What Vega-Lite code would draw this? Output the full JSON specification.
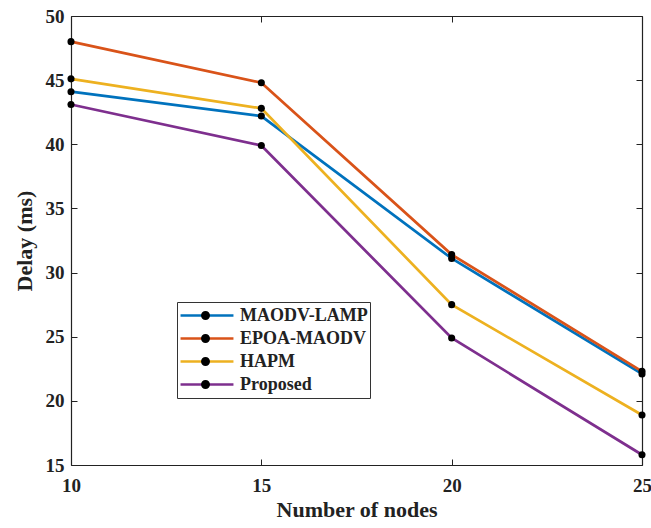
{
  "$schema": "https://vega.github.io/schema/vega-lite/v6.json",
  "autosize": "none",
  "width": 571,
  "height": 449,
  "padding": {"left": 71, "top": 16, "right": 9, "bottom": 63},
  "background": "white",
  "data": {"values": [
    {"nodes": 10, "delay": 44.1, "method": "MAODV-LAMP"},
    {"nodes": 15, "delay": 42.2, "method": "MAODV-LAMP"},
    {"nodes": 20, "delay": 31.1, "method": "MAODV-LAMP"},
    {"nodes": 25, "delay": 22.1, "method": "MAODV-LAMP"},
    {"nodes": 10, "delay": 48.0, "method": "EPOA-MAODV"},
    {"nodes": 15, "delay": 44.8, "method": "EPOA-MAODV"},
    {"nodes": 20, "delay": 31.4, "method": "EPOA-MAODV"},
    {"nodes": 25, "delay": 22.3, "method": "EPOA-MAODV"},
    {"nodes": 10, "delay": 45.1, "method": "HAPM"},
    {"nodes": 15, "delay": 42.8, "method": "HAPM"},
    {"nodes": 20, "delay": 27.5, "method": "HAPM"},
    {"nodes": 25, "delay": 18.9, "method": "HAPM"},
    {"nodes": 10, "delay": 43.1, "method": "Proposed"},
    {"nodes": 15, "delay": 39.9, "method": "Proposed"},
    {"nodes": 20, "delay": 24.9, "method": "Proposed"},
    {"nodes": 25, "delay": 15.8, "method": "Proposed"}
  ]},
  "config": {
    "view": {"stroke": null},
    "font": "Liberation Serif",
    "axis": {
      "grid": false,
      "domainColor": "#222222",
      "domainWidth": 1.2,
      "tickColor": "#222222",
      "tickSize": -6,
      "tickWidth": 1,
      "labelFont": "Liberation Serif",
      "labelFontWeight": "bold",
      "labelFontSize": 19,
      "labelColor": "#222222",
      "titleFont": "Liberation Serif",
      "titleFontWeight": "bold",
      "titleFontSize": 22,
      "titleColor": "#222222"
    }
  },
  "layer": [
    {
      "mark": {"type": "line", "strokeWidth": 2.7},
      "encoding": {
        "x": {"field": "nodes", "type": "quantitative", "scale": {"domain": [10, 25], "nice": false, "zero": false},
              "axis": {"title": "Number of nodes", "values": [10, 15, 20, 25], "labelPadding": 17, "titlePadding": 4, "labelFlush": false}},
        "y": {"field": "delay", "type": "quantitative", "scale": {"domain": [15, 50], "nice": false, "zero": false},
              "axis": {"title": "Delay (ms)", "values": [15, 20, 25, 30, 35, 40, 45, 50], "labelPadding": 13, "titlePadding": 9, "labelFlush": false}},
        "color": {"field": "method", "type": "nominal",
                  "scale": {"domain": ["MAODV-LAMP", "EPOA-MAODV", "HAPM", "Proposed"], "range": ["#0072BD", "#D95319", "#EDB120", "#7E2F8E"]},
                  "legend": {
                    "title": null,
                    "orient": "none",
                    "legendX": 106,
                    "legendY": 286,
                    "fillColor": "white",
                    "strokeColor": "#333333",
                    "padding": 2,
                    "rowPadding": 0,
                    "clipHeight": 23,
                    "symbolType": "M-1,0H1",
                    "symbolSize": 2800,
                    "symbolStrokeWidth": 2.7,
                    "labelFont": "Liberation Serif",
                    "labelFontWeight": "bold",
                    "labelFontSize": 18,
                    "labelColor": "#222222",
                    "labelOffset": 5
                  }}
      }
    },
    {
      "mark": {"type": "point", "filled": true, "size": 50, "opacity": 1},
      "encoding": {
        "x": {"field": "nodes", "type": "quantitative", "axis": {"orient": "top", "title": null, "labels": false, "values": [10, 15, 20, 25]}},
        "y": {"field": "delay", "type": "quantitative", "axis": {"orient": "right", "title": null, "labels": false, "values": [15, 20, 25, 30, 35, 40, 45, 50]}},
        "fill": {"field": "method", "type": "nominal",
                  "scale": {"range": ["black"]},
                  "legend": {
                    "title": null,
                    "orient": "none",
                    "legendX": 106,
                    "legendY": 286,
                    "padding": 2,
                    "rowPadding": 0,
                    "clipHeight": 23,
                    "symbolType": "M-0.17,0a0.17,0.17 0 1,0 0.34,0a0.17,0.17 0 1,0 -0.34,0",
                    "symbolSize": 2800,
                    "symbolStrokeWidth": 0,
                    "symbolOpacity": 1,
                    "labelExpr": "''",
                    "labelFontSize": 18,
                    "labelOffset": 5
                  }}
      }
    }
  ],
  "resolve": {"axis": {"x": "independent", "y": "independent"}}
}
